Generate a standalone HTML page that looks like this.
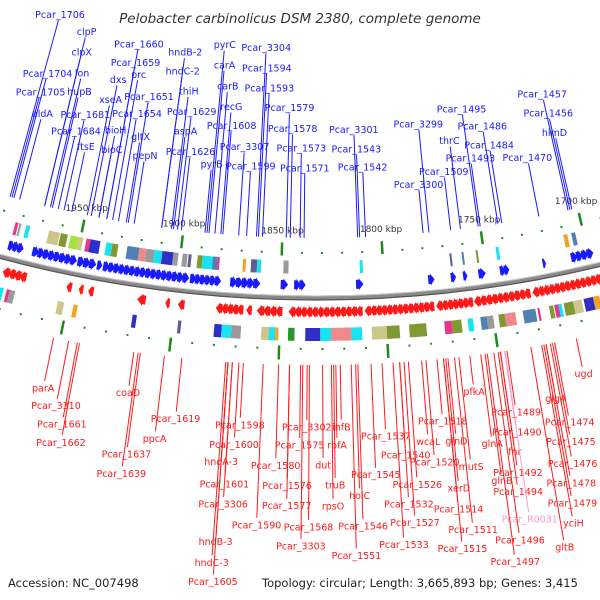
<!DOCTYPE html>
<html><head><meta charset="utf-8"><style>
html,body{margin:0;padding:0;background:#fff;}
svg{display:block;font-family:"DejaVu Sans","Liberation Sans",sans-serif;}
</style></head><body>
<svg id="map" width="600" height="600" viewBox="0 0 600 600" xmlns="http://www.w3.org/2000/svg">
<rect width="600" height="600" fill="#fff"/>
<text x="300" y="23" text-anchor="middle" font-size="13.5" font-style="italic" fill="#333">Pelobacter carbinolicus DSM 2380, complete genome</text>
<g id="band"></g>
<g id="labels"></g>
<text x="8" y="587" font-size="11.5" fill="#222">Accession: NC_007498</text>
<text x="262" y="587" font-size="11.5" fill="#222">Topology: circular; Length: 3,665,893 bp; Genes: 3,415</text>
</svg>
<script>
// ---- data (positions in kbp) ----
const fwdBlockStart = [1983,1971,1948.6,1939,1936,1893.5,1874,1849.5,1843,1813,1778,1767,1761,1753.5,1743,1722,1708];
const fwdBlockEnd   = [1976,1949.5,1940,1937,1894.5,1879,1860,1846.5,1838,1810,1775.5,1765,1759.5,1750.5,1739,1721,1697.5];
const revBlockStart = [1983,1952,1946,1941.5,1918,1904.5,1898.5,1880.5,1866,1861,1846,1810,1776,1758,1730];
const revBlockEnd   = [1972,1950,1944.5,1939.5,1914.5,1903,1896,1868,1864,1849.5,1811.5,1777.5,1759,1731.5,1697.5];
const fwdCogStart = [1983,1981,1977.5,1966,1960,1955,1951,1947,1945,1937,1934,1926.5,1920.5,1917,1913,1909,1903.5,1899,1896,1891.5,1889,1884,1881.5,1869,1865,1862,1849,1811.5,1767,1761,1754,1744,1710,1706];
const fwdCogEnd   = [1981.5,1980,1975.5,1960.5,1956.5,1951,1948.6,1945,1940,1934,1931,1920.5,1917,1913,1909,1903.5,1901,1896.5,1894.5,1889,1884,1881.5,1880.5,1867.5,1862,1860,1846.5,1810,1766,1760,1753,1742.5,1708,1704];
const fwdCogClass = [0,1,2,3,4,5,3,0,6,2,4,7,8,1,2,6,1,1,10,4,2,7,0,9,10,2,1,2,10,7,4,2,9,7];
const revCogStart = [1983,1979,1977.5,1954.5,1947,1919,1897.5,1880.5,1877,1872.5,1858.5,1855,1852,1846,1838,1831,1826,1816.5,1807,1800,1789.5,1773,1769.5,1762,1756,1753,1747.5,1744.5,1736,1729,1723.5,1721,1719,1716.5,1712,1707,1702.5];
const revCogEnd   = [1980.5,1977.5,1975,1951.5,1945,1917,1896,1877,1872.5,1868,1855,1852,1850.5,1843,1831,1826,1816.5,1811.5,1800,1794,1781.5,1769.5,1765,1759.5,1753,1750,1744.5,1739.5,1730,1728,1721.5,1719,1717.5,1712,1708,1702.5,1699.5];
const revCogClass = [2,0,1,3,9,6,10,6,2,1,3,2,9,11,6,2,8,2,3,4,4,0,4,2,7,1,4,8,7,0,4,0,2,4,3,6,9];
const cogColors = ["#e8348a","#9a9a9a","#19e3f0","#cdc68a","#7f9a33","#a6e23c","#2f2fc8","#4f82b4","#f08a8a","#f2a321","#5e5e94","#2b962b"];
const tickKbp = [1700,1750,1800,1850,1900,1950];
const tickLabels = ["1700 kbp","1750 kbp","1800 kbp","1850 kbp","1900 kbp","1950 kbp"];

const fwdNames = ["Pcar_1706","clpP","clpX","Pcar_1704","lon","Pcar_1705","hupB","aldA","Pcar_1681","Pcar_1684","ftsE","Pcar_1660","Pcar_1659","dxs","prc","xseA","Pcar_1651","Pcar_1654","bioH","gltX","bioC","pepN","hndB-2","hndC-2","thiH","Pcar_1629","aspA","Pcar_1626","pyrC","carA","carB","recG","Pcar_1608","Pcar_3307","pyrB","Pcar_1599","Pcar_3304","Pcar_1594","Pcar_1593","Pcar_1579","Pcar_1578","Pcar_1573","Pcar_1571","Pcar_3301","Pcar_1543","Pcar_1542","Pcar_3299","Pcar_3300","thrC","Pcar_1495","Pcar_1486","Pcar_1484","Pcar_1493","Pcar_1509","Pcar_1470","Pcar_1457","Pcar_1456","himD"];
const fwdKbp = [1989,1971,1971,1987,1968,1988,1967,1984,1961,1964,1957,1939,1939,1947,1936,1949,1928,1933,1943,1929,1943,1925,1911,1911,1906,1903,1905,1901,1888,1887,1884,1881,1880,1872,1889,1868,1863,1862,1860,1848,1846,1841,1839,1812,1811,1808,1776,1779,1760,1751,1741,1739,1750,1765,1720,1705,1704,1703];
const fwdLabelR = [969,979,1000,1029,1020,1049,1039,1069,1060,1078,1091,980,999,1019,1010,1040,1030,1049,1069,1071,1089,1089,981,1000,1019,1039,1059,1079,969,989,1010,1030,1049,1069,1089,1088,969,989,1009,1028,1049,1068,1088,1050,1070,1088,1049,1109,1069,1039,1059,1079,1089,1099,1098,1039,1059,1079];

const revNames = ["parA","Pcar_3310","Pcar_1661","Pcar_1662","coaD","Pcar_1637","Pcar_1639","ppcA","Pcar_1619","Pcar_1598","Pcar_1600","hndA-3","Pcar_1601","Pcar_3306","Pcar_1590","hndB-3","hndC-3","Pcar_1605","Pcar_1580","Pcar_1576","Pcar_1577","Pcar_1575","Pcar_3302","Pcar_1568","Pcar_3303","infB","rbfA","dut","truB","rpsO","holC","Pcar_1545","Pcar_1546","Pcar_1551","Pcar_1537","Pcar_1540","Pcar_1532","Pcar_1527","Pcar_1533","Pcar_1526","Pcar_1518","wcaL","Pcar_1520","glnD","pfkA","mutS","xerD","Pcar_1514","Pcar_1511","Pcar_1515","Pcar_1489","Pcar_1490","glnA","fnr","Pcar_1492","glnB","Pcar_1494","Pcar_R0031","Pcar_1496","Pcar_1497","ugd","glgA","Pcar_1474","Pcar_1475","Pcar_1476","Pcar_1478","Pcar_1479","yciH","gltB"];
const revKbp = [1953,1946,1942,1941,1916,1913,1914,1902,1894,1866,1868,1873,1871,1871,1857,1873,1874,1873,1850,1845,1845,1840,1837,1836,1839,1822,1824,1830,1825,1826,1815,1808,1814,1817,1803,1795,1795,1793,1798,1791,1778,1785,1783,1773,1763,1768,1774,1775,1770,1775,1746,1747,1758,1749,1749,1756,1750,1747,1752,1755,1714,1728,1724,1725,1726,1728,1729,1730,1735];
const revLabelR = [1336,1351,1368,1386,1326,1387,1407,1368,1346,1347,1367,1385,1407,1427,1446,1465,1486,1505,1386,1406,1426,1365,1347,1447,1466,1347,1365,1385,1405,1426,1416,1396,1447,1476,1358,1378,1427,1446,1467,1408,1347,1366,1387,1368,1321,1395,1415,1436,1458,1476,1347,1367,1375,1386,1407,1413,1426,1455,1474,1495,1321,1340,1366,1385,1407,1426,1446,1466,1488];

// ---- geometry ----
const CX = 316, CY = -920, R0 = 1218;
const A = 2*Math.PI/3665.893, K0 = 1833;
function ang(k){ return (K0-k)*A; }
function pt(k, r){ const p = ang(k); return [CX + r*Math.sin(p), CY + r*Math.cos(p)]; }
function P(k,r){ const q = pt(k,r); return q[0].toFixed(2)+","+q[1].toFixed(2); }
const NS = "http://www.w3.org/2000/svg";
const band = document.getElementById("band");
const labels = document.getElementById("labels");
function mk(tag, attrs, parent){ const e = document.createElementNS(NS, tag); for (const a in attrs) e.setAttribute(a, attrs[a]); parent.appendChild(e); return e; }

// backbone
let bb = mk("circle", {cx:CX, cy:CY, r:R0, fill:"none", stroke:"#8a8a8a", "stroke-width":5}, band);


mk("circle", {cx:CX, cy:CY, r:R0+2, fill:"none", stroke:"#555", "stroke-width":1.2}, band);
mk("circle", {cx:CX, cy:CY, r:R0-2, fill:"none", stroke:"#c8c8c8", "stroke-width":1}, band);

// dots and ticks
for (let k = 1690; k <= 1995; k += 10) {
  const isTick = (k % 50 === 0);
  if (isTick) {
    let t1 = mk("line", {x1:pt(k,1163)[0], y1:pt(k,1163)[1], x2:pt(k,1176)[0], y2:pt(k,1176)[1], stroke:"#1f8a1f", "stroke-width":2.5}, band);
    
    
    let t2 = mk("line", {x1:pt(k,1266)[0], y1:pt(k,1266)[1], x2:pt(k,1280)[0], y2:pt(k,1280)[1], stroke:"#1f8a1f", "stroke-width":2.5}, band);
    
    
  } else {
    const a = pt(k,1173), b = pt(k,1269);
    let d1 = mk("rect", {x:a[0]-1, y:a[1]-1, width:2, height:2, fill:"#1f8a1f"}, band);
    
    
    let d2 = mk("rect", {x:b[0]-1, y:b[1]-1, width:2, height:2, fill:"#1f8a1f"}, band);
    
    
  }
}
tickKbp.forEach((k,i) => {
  const q = pt(k, 1151);
  let t = mk("text", {x:q[0], y:q[1]+3, "text-anchor":"middle", "font-size":9, fill:"#333"}, band);
  t.textContent = tickLabels[i];
  
  
});

// arrows
function arrow(s, e, rc, h, color){
  const m = e + (s-e)*0.65;
  const d = "M"+P(s,rc-h)+" L"+P(m,rc-h)+" L"+P(m,rc-h-1.5)+" L"+P(e,rc)+" L"+P(m,rc+h+1.5)+" L"+P(m,rc+h)+" L"+P(s,rc+h)+" Z";
  return mk("path", {d:d, fill:color}, band);
}
fwdBlockStart.forEach((s,i) => {
  const e0 = fwdBlockEnd[i]; const len = s - e0; const n = Math.max(1, Math.round(len/2.6)); const step = len/n;
  for (let j=0;j<n;j++){
    const a = arrow(s - j*step + 0.6, s - (j+1)*step, 1205, 4.5, "#1a1aff");
    
    
  }
});
revBlockStart.forEach((s,i) => {
  const e0 = revBlockEnd[i]; const len = s - e0; const n = Math.max(1, Math.round(len/2.6)); const step = len/n;
  for (let j=0;j<n;j++){
    const a = arrow(e0 + j*step - 0.6, e0 + (j+1)*step, 1232, 4.5, "#ff1a1a");
    
    
  }
});
function cog(s, e, r1, r2, color){
  const d = "M"+P(s,r1)+" L"+P(e,r1)+" L"+P(e,r2)+" L"+P(s,r2)+" Z";
  return mk("path", {d:d, fill:color}, band);
}
fwdCogStart.forEach((s,i) => {
  const c = cog(s, fwdCogEnd[i], 1181, 1194, cogColors[fwdCogClass[i]]);
  
  
});
revCogStart.forEach((s,i) => {
  const c = cog(s, revCogEnd[i], 1248, 1261, cogColors[revCogClass[i]]);
  
  
});

// labels
fwdNames.forEach((n,i) => {
  const k = fwdKbp[i], r = fwdLabelR[i];
  const a = pt(k, r+6), b = pt(k, 1158);
  const l = mk("line", {x1:a[0], y1:a[1], x2:b[0], y2:b[1], stroke:"#1a1aff", "stroke-width":1}, labels);
  
  
  const q = pt(k, r);
  const t = mk("text", {x:q[0], y:q[1]+3.5, "text-anchor":"middle", "font-size":9.5, fill:"#1a1aff"}, labels);
  t.textContent = n;
  
  
});
revNames.forEach((n,i) => {
  const k = revKbp[i], r = revLabelR[i];
  const col = n === "Pcar_R0031" ? "#ff99cc" : "#ff1a1a";
  const a = pt(k, 1285), b = pt(k, r-7);
  const l = mk("line", {x1:a[0], y1:a[1], x2:b[0], y2:b[1], stroke:col, "stroke-width":1}, labels);
  
  
  const q = pt(k, r);
  const t = mk("text", {x:q[0], y:q[1]+3.5, "text-anchor":"middle", "font-size":9.5, fill:col}, labels);
  t.textContent = n;
  
  
});
</script>
</body></html>
